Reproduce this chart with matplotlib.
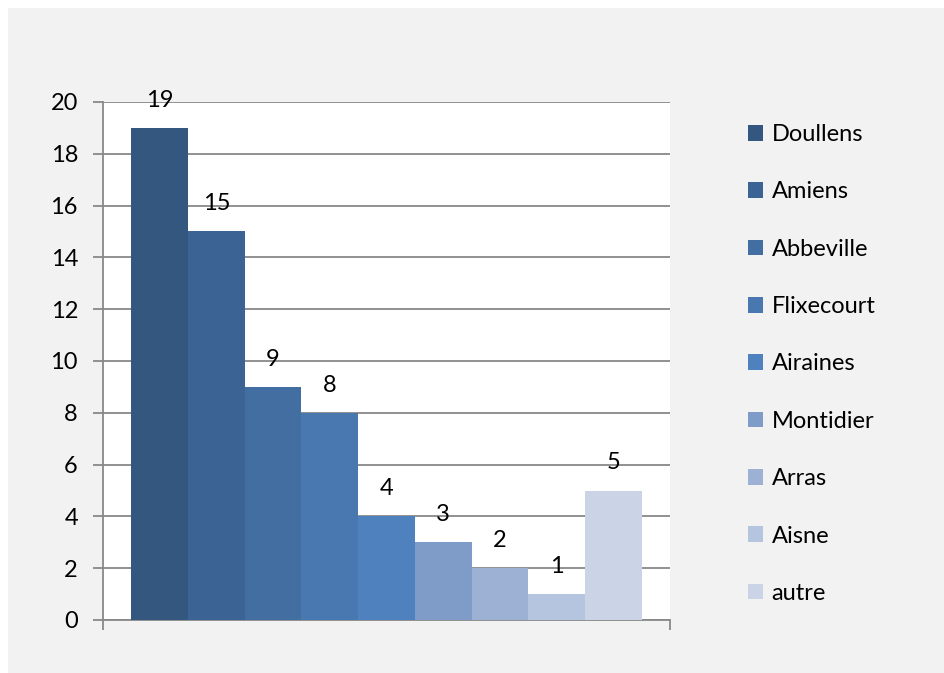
import matplotlib.pyplot as plt
from matplotlib.patches import Rectangle

villes = ["Doullens", "Amiens", "Abbeville", "Flixecourt", "Airaines",
          "Montidier", "Arras", "Aisne", "autre"]
effectifs = [19, 15, 9, 8, 4, 3, 2, 1, 5]
couleurs = ["#34577f", "#3b6394", "#426ea2", "#4978b0", "#4e81bd",
            "#7e9cc7", "#9cb1d3", "#b5c4df", "#cbd4e6"]

plt.rcParams["font.family"] = ["Lato", "DejaVu Sans"]

fig = plt.figure(figsize=(9.45, 6.73), dpi=100, facecolor="white")
# fond gris du cadre
fig.patches.append(Rectangle((8 / 945, 0), 1, 1 - 8 / 673, transform=fig.transFigure,
                             facecolor="#f2f2f2", edgecolor="none", zorder=-10))

ax = fig.add_axes([103 / 945, 53 / 673, 567 / 945, 518 / 673])
ax.set_facecolor("white")

for i, (v, c, nom) in enumerate(zip(effectifs, couleurs, villes)):
    ax.bar(i, v, width=1.0, color=c, label=nom, zorder=3)
    ax.annotate(str(v), (i, v), xytext=(0, 20), textcoords="offset points",
                ha="center", va="center", fontsize=17, color="black", zorder=4)

ax.set_xlim(-1, 9)
ax.set_ylim(0, 20)
ax.set_yticks(range(0, 21, 2))
ax.set_xticks([-1, 9])
ax.set_xticklabels([])
ax.yaxis.grid(True, color="#888888", linewidth=1.3, zorder=0)
ax.set_axisbelow(True)

for s in ["top", "right"]:
    ax.spines[s].set_visible(False)
for s in ["left", "bottom"]:
    ax.spines[s].set_color("#888888")
    ax.spines[s].set_linewidth(1.3)

ax.tick_params(axis="y", length=7, width=1.3, color="#888888", labelsize=17, pad=11)
ax.tick_params(axis="x", length=7, width=1.3, color="#888888")

leg = ax.legend(loc="upper left", bbox_to_anchor=(748 / 945, 1 - 124 / 673),
                bbox_transform=fig.transFigure, frameon=False, fontsize=17,
                handlelength=0.65, handleheight=0.65, handletextpad=0.35,
                labelspacing=1.54, borderaxespad=0, borderpad=0)

fig.savefig("out.png", dpi=100, facecolor=fig.get_facecolor())
